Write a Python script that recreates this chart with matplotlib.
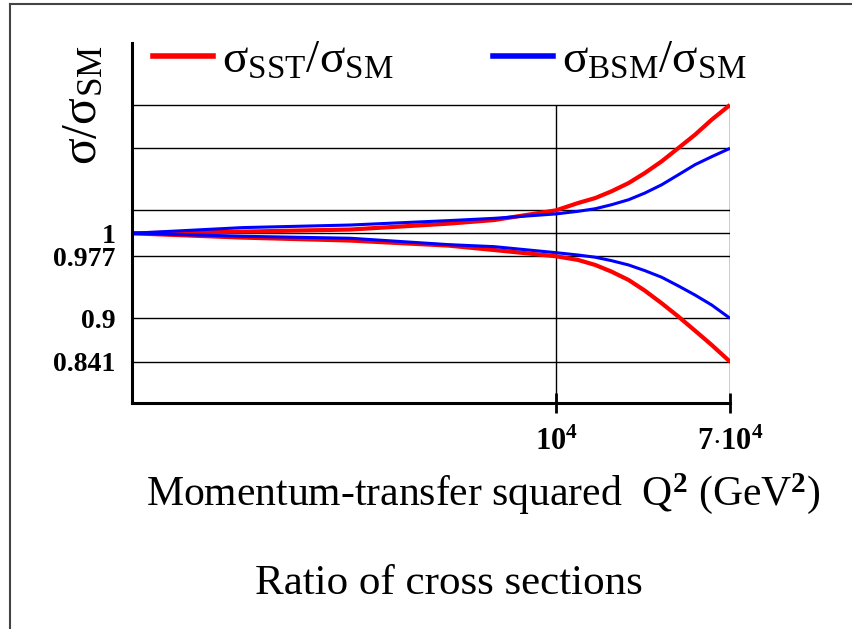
import numpy as np
import matplotlib
matplotlib.use("Agg")
import matplotlib.pyplot as plt
from matplotlib.lines import Line2D

plt.rcParams['font.family'] = ['Liberation Serif', 'DejaVu Serif']
plt.rcParams['mathtext.fontset'] = 'custom'
plt.rcParams['mathtext.rm'] = 'Liberation Serif'
plt.rcParams['mathtext.it'] = 'Liberation Serif:italic'
plt.rcParams['mathtext.bf'] = 'Liberation Serif:bold'

# ---- data ----
q2 = [87, 300, 1000, 3000, 5000, 10000, 12800, 15500, 18600, 22500, 27000,
      32600, 39300, 47300, 57000, 70000]
sst_up = [1.0, 1.0012, 1.0030, 1.0087, 1.0124, 1.023, 1.0314, 1.0372, 1.0453, 1.0554,
          1.0680, 1.0830, 1.1004, 1.1181, 1.1385, 1.159]
sst_dn = [1.0, 0.9965, 0.9937, 0.9886, 0.9839, 0.977, 0.9728, 0.9670, 0.9591, 0.9490,
          0.9357, 0.9196, 0.9022, 0.8835, 0.8641, 0.841]
bsm_up = [1.0, 1.0048, 1.0073, 1.0118, 1.0142, 1.019, 1.0219, 1.0248, 1.0294, 1.0352,
          1.0432, 1.0533, 1.0658, 1.0786, 1.0890, 1.100]
bsm_dn = [1.0, 0.9977, 0.9959, 0.9896, 0.9875, 0.981, 0.9784, 0.9759, 0.9720, 0.9670,
          0.9603, 0.9523, 0.9416, 0.9302, 0.9174, 0.900]

y_grid = [0.841, 0.9, 0.977, 1.0, 1.023, 1.1, 1.159]
y_labels = ["0.841", "0.9", "0.977", "1", "", "", ""]
y_tickmarks = [0.9, 0.977, 1.0, 1.023, 1.1]
x_ticks = [1e4, 7e4]
x_labels = [r"$\mathbf{10^{4}}$", r"$\mathbf{7{\cdot}10^{4}}$"]
legend_labels = [r"σ$_{\mathrm{SST}}$/σ$_{\mathrm{SM}}$", r"σ$_{\mathrm{BSM}}$/σ$_{\mathrm{SM}}$"]

P = 0.89
def fwd(y):
    d = np.asarray(y, dtype=float) - 1.0
    return np.sign(d) * np.abs(d) ** P
def inv(u):
    u = np.asarray(u, dtype=float)
    return 1.0 + np.sign(u) * np.abs(u) ** (1.0 / P)

W, H = 853, 629
fig = plt.figure(figsize=(W / 100, H / 100), dpi=100)
fig.patch.set_facecolor('white')

# outer frame
fig.add_artist(Line2D([10 / W, 10 / W], [-0.1, 1 - 4 / H], color='#444444', lw=1.5))
fig.add_artist(Line2D([10 / W, 1.1], [1 - 4 / H, 1 - 4 / H], color='#444444', lw=1.5))

L, R, T, B = 132, 730, 43.3, 403.3
ax = fig.add_axes([L / W, 1 - B / H, (R - L) / W, (B - T) / H])
ax.set_xscale('log')
ax.set_yscale('function', functions=(fwd, inv))
ax.set_xlim(87, 7e4)
ax.set_ylim(0.782, 1.247)

for s in ['top', 'right']:
    ax.spines[s].set_visible(False)
for s in ['left', 'bottom']:
    ax.spines[s].set_linewidth(2.2)

ax.set_yticks(y_grid)
ax.set_yticklabels(y_labels)
ax.set_yticks(y_tickmarks, minor=True)
ax.yaxis.set_minor_formatter(matplotlib.ticker.NullFormatter())
ax.tick_params(axis='y', which='major', length=0, pad=12, labelsize=20)
ax.tick_params(axis='y', which='minor', length=14, width=2.0, direction='inout')
for lab in ax.get_yticklabels():
    lab.set_fontweight('bold')
ax.yaxis.grid(True, which='major', color='black', lw=1.0)

ax.set_xticks(x_ticks)
ax.set_xticklabels(x_labels)
ax.xaxis.set_minor_locator(matplotlib.ticker.NullLocator())
ax.tick_params(axis='x', which='major', length=14, width=2.0, direction='inout', pad=11, labelsize=22)
ax.vlines(x_ticks, 0.782, y_grid[-1], color='black', lw=1.0)

ax.plot(q2, sst_up, color='#ff0000', lw=3.0, solid_capstyle='butt')
ax.plot(q2, sst_dn, color='#ff0000', lw=3.0, solid_capstyle='butt')
ax.plot(q2, bsm_up, color='#0000ff', lw=2.2, solid_capstyle='butt')
ax.plot(q2, bsm_dn, color='#0000ff', lw=2.2, solid_capstyle='butt')

h1 = Line2D([], [], color='#ff0000', lw=4)
h2 = Line2D([], [], color='#0000ff', lw=4)
leg = ax.legend([h1, h2], legend_labels,
                ncol=2, frameon=False, loc='center left', bbox_to_anchor=(0.035, 0.95),
                borderaxespad=0, borderpad=0,
                fontsize=34, handlelength=1.27, handletextpad=0.19, columnspacing=2.1)

fig.text(84 / W, 1 - 105 / H, r"σ/σ$_{\mathrm{SM}}$", rotation=90, ha='center', va='center', fontsize=36)
fig.text(483.5 / W, 1 - 494 / H, r"Momentum-transfer squared  Q$^{\mathbf{2}}$ (GeV$^{\mathbf{2}}$)",
         ha='center', va='center', fontsize=30)
fig.text(449 / W, 1 - 584 / H, "Ratio of cross sections", ha='center', va='center', fontsize=31)

fig.savefig("out.png", dpi=100)
